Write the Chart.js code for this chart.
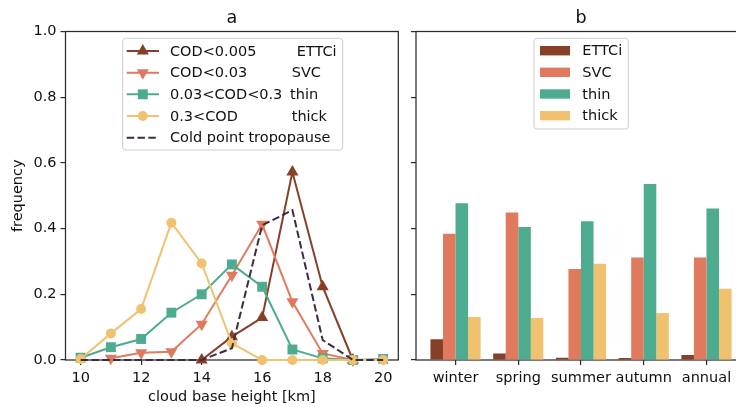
<!DOCTYPE html>
<html>
<head>
<meta charset="utf-8">
<script src="https://cdn.jsdelivr.net/npm/chart.js@4.4.1/dist/chart.umd.min.js"></script>
<style>
  html, body { margin: 0; padding: 0; background: #fff; overflow: hidden; width: 736px; height: 407px; }
  #wrap { position: relative; width: 736px; height: 407px; overflow: hidden; }
  canvas { position: absolute; top: 0; }
  #panelA { left: 0; }
  #panelB { left: 400px; }
</style>
</head>
<body>
<div id="wrap">
  <canvas id="panelA" width="410" height="407"></canvas>
  <canvas id="panelB" width="360" height="407"></canvas>
</div>
<script>
// ---- panel a: distribution of cloud base height ----
const heightKm   = [10, 11, 12, 13, 14, 15, 16, 17, 18, 19, 20];
const ettciFreq  = [null, null, null, null, 0, 0.071, 0.129, 0.572, 0.223, 0, null];
const svcFreq    = [null, 0.005, 0.022, 0.025, 0.109, 0.258, 0.413, 0.177, 0.020, 0, null];
const thinFreq   = [0.007, 0.039, 0.064, 0.144, 0.200, 0.291, 0.223, 0.032, 0.005, 0, 0.003];
const thickFreq  = [0.003, 0.081, 0.155, 0.418, 0.294, 0.051, 0, 0, 0, 0, 0];
const cptFreq    = [0, 0, 0, 0, 0, 0.036, 0.410, 0.456, 0.061, 0, 0];
const heightTicks = [10, 12, 14, 16, 18, 20];
const freqTicks   = [0, 0.2, 0.4, 0.6, 0.8, 1.0];

// ---- panel b: occurrence per season ----
const seasons     = ['winter', 'spring', 'summer', 'autumn', 'annual'];
const ettciShare  = [0.063, 0.020, 0.007, 0.006, 0.015];
const svcShare    = [0.384, 0.449, 0.277, 0.312, 0.312];
const thinShare   = [0.477, 0.405, 0.422, 0.536, 0.461];
const thickShare  = [0.131, 0.128, 0.293, 0.143, 0.217];

// cloud classes
const codRanges  = ['COD<0.005', 'COD<0.03', '0.03<COD<0.3', '0.3<COD'];
const classNames = ['ETTCi', 'SVC', 'thin', 'thick'];
const cptLabel   = 'Cold point tropopause';

const COLORS = ['#873f27', '#e07a5f', '#4dab8f', '#f0c26f'];
const CPT_COLOR = '#3d2b3f';
const SPINE = '#2b2b2b';
const TEXT = '#111111';
const FONT = 'DejaVu Sans';
const FS = 14.5;

Chart.defaults.font.family = FONT;
Chart.defaults.font.size = FS;
Chart.defaults.color = TEXT;

const markers = [
  { pointStyle: 'triangle', radius: 7, rotation: 0 },
  { pointStyle: 'triangle', radius: 7, rotation: 180 },
  { pointStyle: 'rect', radius: 7, rotation: 0 },
  { pointStyle: 'circle', radius: 5, rotation: 0 }
];

function toPoints(xs, ys) {
  const out = [];
  xs.forEach((x, i) => { if (ys[i] !== null) out.push({ x, y: ys[i] }); });
  return out;
}

function roundRect(ctx, x, y, w, h, r) {
  ctx.beginPath();
  ctx.moveTo(x + r, y);
  ctx.lineTo(x + w - r, y);
  ctx.quadraticCurveTo(x + w, y, x + w, y + r);
  ctx.lineTo(x + w, y + h - r);
  ctx.quadraticCurveTo(x + w, y + h, x + w - r, y + h);
  ctx.lineTo(x + r, y + h);
  ctx.quadraticCurveTo(x, y + h, x, y + h - r);
  ctx.lineTo(x, y + r);
  ctx.quadraticCurveTo(x, y, x + r, y);
  ctx.closePath();
}

function legendBox(ctx, x, y, w, h) {
  roundRect(ctx, x, y, w, h, 3);
  ctx.fillStyle = 'rgba(255,255,255,0.8)';
  ctx.fill();
  ctx.strokeStyle = '#cccccc';
  ctx.lineWidth = 1;
  ctx.stroke();
}

// full box of spines around the plotting area
const framePlugin = {
  id: 'frame',
  beforeDatasetsDraw(chart) {
    const { ctx, chartArea: a } = chart;
    ctx.save();
    ctx.strokeStyle = SPINE;
    ctx.lineWidth = 1.25;
    ctx.strokeRect(a.left, a.top, a.right - a.left, a.bottom - a.top);
    ctx.restore();
  }
};

const legendA = {
  id: 'legendA',
  afterDatasetsDraw(chart) {
    const ctx = chart.ctx;
    ctx.save();
    legendBox(ctx, 122.7, 38.3, 220, 111.7);
    const rows = [51, 72.7, 94.3, 116, 137.7];
    const col2 = [296.7, 291.7, 290, 291.7];
    ctx.font = FS + 'px "' + FONT + '"';
    ctx.textBaseline = 'middle';
    ctx.textAlign = 'left';
    for (let i = 0; i < 5; i++) {
      const y = rows[i];
      ctx.beginPath();
      ctx.moveTo(126.7, y);
      ctx.lineTo(159, y);
      ctx.lineWidth = 2;
      if (i < 4) {
        ctx.strokeStyle = COLORS[i];
        ctx.setLineDash([]);
        ctx.stroke();
        ctx.fillStyle = COLORS[i];
        ctx.strokeStyle = COLORS[i];
        Chart.helpers.drawPoint(ctx, { ...markers[i], borderWidth: 0 }, 142.8, y);
        ctx.fillStyle = TEXT;
        ctx.fillText(codRanges[i], 170, y + 1);
        ctx.fillText(classNames[i], col2[i], y + 1);
      } else {
        ctx.strokeStyle = CPT_COLOR;
        ctx.setLineDash([7.5, 3.3]);
        ctx.stroke();
        ctx.setLineDash([]);
        ctx.fillStyle = TEXT;
        ctx.fillText(cptLabel, 170, y + 1);
      }
    }
    ctx.restore();
  }
};

const legendB = {
  id: 'legendB',
  afterDatasetsDraw(chart) {
    const ctx = chart.ctx;
    ctx.save();
    legendBox(ctx, 134, 38.3, 94.3, 90.7);
    const rows = [50.7, 72.3, 94, 115.7];
    ctx.font = FS + 'px "' + FONT + '"';
    ctx.textBaseline = 'middle';
    ctx.textAlign = 'left';
    rows.forEach((y, i) => {
      ctx.fillStyle = COLORS[i];
      ctx.fillRect(140, y - 4.7, 30, 9.4);
      ctx.fillStyle = TEXT;
      ctx.fillText(classNames[i], 182.3, y + 1);
    });
    ctx.restore();
  }
};

const tickGrid = {
  display: true,
  drawOnChartArea: false,
  drawTicks: true,
  tickLength: 5,
  color: SPINE,
  lineWidth: 1.2
};

const titleFont = { family: FONT, size: 17.5, weight: 'normal', lineHeight: 1.2 };

// ---------- panel a ----------
const lineSets = [ettciFreq, svcFreq, thinFreq, thickFreq].map((vals, i) => ({
  label: codRanges[i] + ' ' + classNames[i],
  data: toPoints(heightKm, vals),
  borderColor: COLORS[i],
  backgroundColor: COLORS[i],
  borderWidth: 2,
  pointStyle: markers[i].pointStyle,
  pointRadius: markers[i].radius,
  pointRotation: markers[i].rotation,
  pointBorderWidth: 0,
  pointBackgroundColor: COLORS[i],
  pointBorderColor: COLORS[i],
  tension: 0,
  clip: false,
  order: 5 - i
}));
lineSets.push({
  label: cptLabel,
  data: toPoints(heightKm, cptFreq),
  borderColor: CPT_COLOR,
  borderWidth: 2,
  borderDash: [7.5, 3.3],
  pointRadius: 0,
  tension: 0,
  clip: false,
  order: 0
});

new Chart(document.getElementById('panelA'), {
  type: 'line',
  data: { datasets: lineSets },
  options: {
    responsive: false,
    animation: false,
    devicePixelRatio: 1,
    layout: { padding: { left: 0, right: 11.7, top: 0, bottom: 0 } },
    plugins: {
      legend: { display: false },
      tooltip: { enabled: false },
      title: { display: true, text: 'a', fullSize: false, font: titleFont, color: TEXT, padding: { top: 7.5, bottom: 3 } }
    },
    scales: {
      x: {
        type: 'linear', min: 9.5, max: 20.5,
        afterBuildTicks: s => { s.ticks = heightTicks.map(v => ({ value: v })); },
        afterFit: s => { s.height = 47; },
        ticks: { padding: 5, maxRotation: 0, callback: v => String(v), color: TEXT },
        grid: tickGrid,
        border: { display: false },
        title: { display: true, text: 'cloud base height [km]', color: TEXT, padding: { top: 0, bottom: 1 } }
      },
      y: {
        type: 'linear', min: 0, max: 1,
        afterBuildTicks: s => { s.ticks = freqTicks.map(v => ({ value: v })); },
        afterFit: s => { s.width = 65.5; },
        ticks: { padding: 4, callback: v => v.toFixed(1), color: TEXT },
        grid: tickGrid,
        border: { display: false },
        title: { display: true, text: 'frequency', color: TEXT, padding: { top: 10, bottom: 0 } }
      }
    }
  },
  plugins: [framePlugin, legendA]
});

// ---------- panel b ----------
const barSets = [ettciShare, svcShare, thinShare, thickShare].map((vals, i) => ({
  label: classNames[i],
  data: seasons.map((s, k) => ({ x: k, y: vals[k] })),
  backgroundColor: COLORS[i],
  borderWidth: 0,
  categoryPercentage: 0.8,
  barPercentage: 1.0
}));

new Chart(document.getElementById('panelB'), {
  type: 'bar',
  data: { datasets: barSets },
  options: {
    responsive: false,
    animation: false,
    devicePixelRatio: 1,
    layout: { padding: { left: 0, right: 14, top: 0, bottom: 0 } },
    plugins: {
      legend: { display: false },
      tooltip: { enabled: false },
      title: { display: true, text: 'b', fullSize: false, font: titleFont, color: TEXT, padding: { top: 7.5, bottom: 3 } }
    },
    scales: {
      x: {
        type: 'linear', min: -0.63, max: 4.63, offset: false,
        afterBuildTicks: s => { s.ticks = seasons.map((_, k) => ({ value: k })); },
        afterFit: s => { s.height = 47; },
        ticks: { padding: 5, maxRotation: 0, autoSkip: false, callback: v => seasons[v] ?? '', color: TEXT },
        grid: { ...tickGrid, offset: false },
        border: { display: false }
      },
      y: {
        type: 'linear', min: 0, max: 1,
        afterBuildTicks: s => { s.ticks = freqTicks.map(v => ({ value: v })); },
        afterFit: s => { s.width = 16; },
        ticks: { callback: () => '' },
        grid: tickGrid,
        border: { display: false }
      }
    }
  },
  plugins: [framePlugin, legendB]
});
</script>
</body>
</html>
